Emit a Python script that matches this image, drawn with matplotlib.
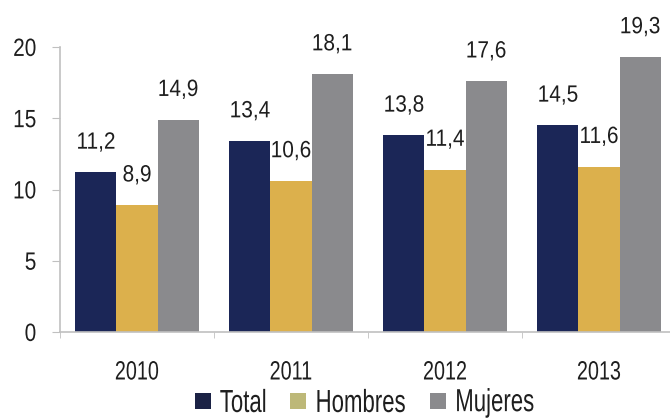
import matplotlib
matplotlib.use("Agg")
import matplotlib.pyplot as plt
import numpy as np
from matplotlib.patches import Patch
from matplotlib.patheffects import AbstractPathEffect
from matplotlib.transforms import Affine2D

years = ["2010", "2011", "2012", "2013"]
total = [11.2, 13.4, 13.8, 14.5]
hombres = [8.9, 10.6, 11.4, 11.6]
mujeres = [14.9, 18.1, 17.6, 19.3]
series_names = ["Total", "Hombres", "Mujeres"]
yticks = [0, 5, 10, 15, 20]

colors = ["#1b2657", "#dcb04c", "#8a8a8d"]
legend_colors = ["#1b2245", "#bdb878", "#8a8a8d"]
text_color = "#1e1e1e"


class Stretch(AbstractPathEffect):
    """Stretch a text's glyphs around their own centre (narrow/tall look)."""
    def __init__(self, sx, sy):
        super().__init__()
        self.sx, self.sy = sx, sy

    def draw_path(self, renderer, gc, tpath, affine, rgbFace=None):
        ext = tpath.get_extents()
        cx, cy = (ext.x0 + ext.x1) / 2, (ext.y0 + ext.y1) / 2
        t = Affine2D().translate(-cx, -cy).scale(self.sx, self.sy).translate(cx, cy) + affine
        renderer.draw_path(gc, tpath, t, rgbFace)


plt.rcParams['font.family'] = ['Liberation Sans', 'DejaVu Sans']

fig = plt.figure(figsize=(6.7, 4.18), dpi=100)
ax = fig.add_axes([60/670, 86/418, 616/670, 285/418])

x = np.arange(len(years))
w = 0.8 / 3
for i, (vals, c) in enumerate(zip([total, hombres, mujeres], colors)):
    pos = x + (i - 1) * w
    ax.bar(pos, vals, width=w, color=c, linewidth=0)
    for p, v in zip(pos, vals):
        t = ax.annotate(f"{v:.1f}".replace(".", ","), (p, v), xytext=(0, 30),
                        textcoords="offset pixels", ha="center", va="center",
                        fontsize=15, color=text_color)
        t.set_path_effects([Stretch(1.0, 1.13)])

ax.set_xlim(-0.5, 3.5)
ax.set_ylim(0, 20)
ax.set_yticks(yticks)
ax.set_yticklabels([str(t) for t in yticks], fontsize=15, color=text_color)
ax.set_xticks(x)
ax.set_xticklabels(years, fontsize=15, color=text_color)
ax.tick_params(axis="x", length=0, pad=22)
ax.set_xticks(np.arange(-0.5, 4.0, 1.0), minor=True)
ax.tick_params(axis="x", which="minor", length=4, color="#c0c0c0", direction="out")
ax.tick_params(axis="y", length=6, color="#c0c0c0", pad=11)

for s in ["top", "right"]:
    ax.spines[s].set_visible(False)
for s in ["left", "bottom"]:
    ax.spines[s].set_color("#c0c0c0")
    ax.spines[s].set_linewidth(1.2)

for lab in ax.get_xticklabels():
    lab.set_path_effects([Stretch(0.95, 1.27)])
for lab in ax.get_yticklabels():
    lab.set_path_effects([Stretch(1.0, 1.2)])

handles = [Patch(facecolor=c, edgecolor="none") for c in legend_colors]
leg = fig.legend(handles, series_names, loc="center", bbox_to_anchor=(366/670, 1 - 403/418),
                 ncol=3, frameon=False, fontsize=17, handlelength=0.68, handleheight=0.68,
                 handletextpad=0.3, columnspacing=0.9, borderpad=0, borderaxespad=0)
for t in leg.get_texts():
    t.set_color(text_color)
    t.set_path_effects([Stretch(0.94, 1.35)])

fig.savefig("out.png", dpi=100)
